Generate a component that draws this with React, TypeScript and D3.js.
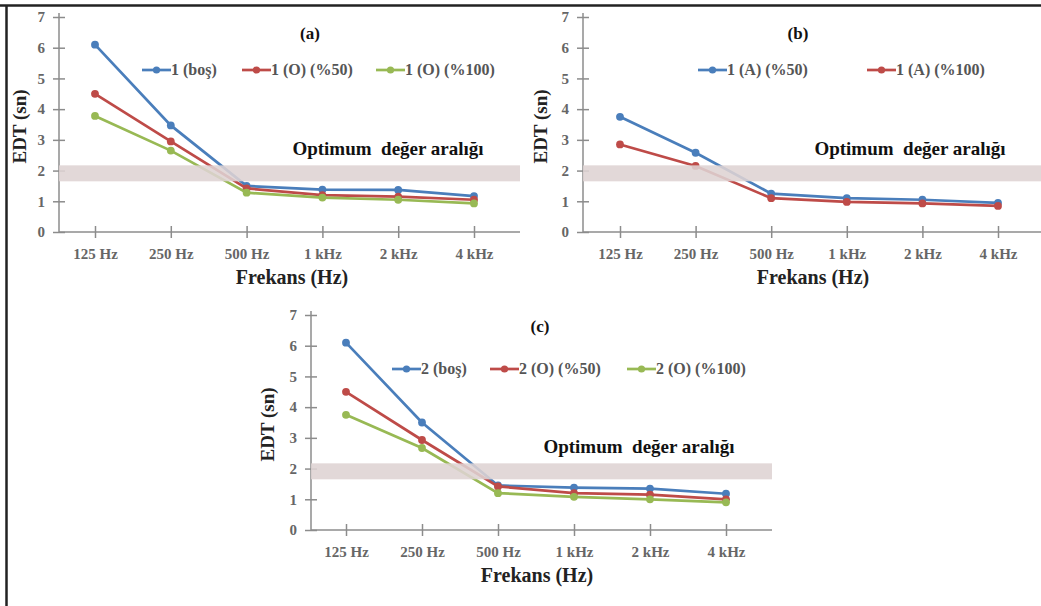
import * as d3 from "d3";
import { useEffect, useRef } from "react";

const categories = ["125 Hz", "250 Hz", "500 Hz", "1 kHz", "2 kHz", "4 kHz"];
const yTicks = [0, 1, 2, 3, 4, 5, 6, 7];
const optimumRange = [1.65, 2.17];

// panel (a)
const a1Bos = [6.1, 3.47, 1.5, 1.38, 1.37, 1.17];
const a1O50 = [4.5, 2.95, 1.42, 1.2, 1.15, 1.05];
const a1O100 = [3.78, 2.65, 1.28, 1.12, 1.05, 0.93];

// panel (b)
const b1A50 = [3.75, 2.58, 1.25, 1.1, 1.05, 0.95];
const b1A100 = [2.85, 2.15, 1.1, 0.98, 0.93, 0.85];

// panel (c)
const c2Bos = [6.1, 3.5, 1.45, 1.38, 1.35, 1.18];
const c2O50 = [4.5, 2.93, 1.42, 1.2, 1.15, 1.0];
const c2O100 = [3.75, 2.67, 1.2, 1.08, 1.0, 0.9];

const BLUE = "#4a7ebb";
const RED = "#be4b48";
const GREEN = "#98b954";
const FONT = "Liberation Serif, DejaVu Serif, serif";

const panels = [
	{
		title: "(a)",
		axisX: 59, top: 17, bottom: 232, first: 95, last: 474, right: 520,
		titleX: 310, titleY: 39,
		legendY: 70,
		optX: 388, optY: 155,
		xTitleX: 292, yTitleX: 26,
		series: [
			{ name: "1 (boş)", values: a1Bos, color: BLUE, lx: 142 },
			{ name: "1 (O) (%50)", values: a1O50, color: RED, lx: 242 },
			{ name: "1 (O) (%100)", values: a1O100, color: GREEN, lx: 376 }
		]
	},
	{
		title: "(b)",
		axisX: 583, top: 17, bottom: 232, first: 620, last: 998, right: 1041,
		titleX: 798, titleY: 39,
		legendY: 70,
		optX: 910, optY: 155,
		xTitleX: 813, yTitleX: 547,
		series: [
			{ name: "1 (A) (%50)", values: b1A50, color: BLUE, lx: 698 },
			{ name: "1 (A) (%100)", values: b1A100, color: RED, lx: 867 }
		]
	},
	{
		title: "(c)",
		axisX: 311, top: 315, bottom: 530, first: 346, last: 726, right: 772,
		titleX: 540, titleY: 332,
		legendY: 369,
		optX: 639, optY: 453,
		xTitleX: 537, yTitleX: 274,
		series: [
			{ name: "2 (boş)", values: c2Bos, color: BLUE, lx: 392 },
			{ name: "2 (O) (%50)", values: c2O50, color: RED, lx: 490 },
			{ name: "2 (O) (%100)", values: c2O100, color: GREEN, lx: 627 }
		]
	}
];

const App = () => {
	const chartRef = useRef(null);

	useEffect(() => {
		const svg = d3.select(chartRef.current);
		svg.selectAll("*").remove();

		svg.append("rect").attr("width", 1041).attr("height", 606).attr("fill", "#fff");
		// frame
		svg.append("line").attr("x1", 0).attr("x2", 1041).attr("y1", 5.5).attr("y2", 5.5)
			.attr("stroke", "#222").attr("stroke-width", 2.5);
		svg.append("line").attr("x1", 6.5).attr("x2", 6.5).attr("y1", 5).attr("y2", 606)
			.attr("stroke", "#222").attr("stroke-width", 2.5);

		panels.forEach(p => {
			const g = svg.append("g").attr("font-family", FONT);

			const scaleX = d3.scalePoint().domain(categories).range([p.first, p.last]);
			const scaleY = d3.scaleLinear().domain([0, 7]).range([p.bottom, p.top]);

			// y axis
			const yAxis = g.append("g")
				.attr("transform", `translate(${p.axisX},0)`)
				.call(d3.axisLeft(scaleY).tickValues(yTicks).tickFormat(d3.format("d")).tickSize(6).tickSizeOuter(0));
			yAxis.attr("font-family", FONT);
			yAxis.select(".domain").attr("stroke", "#8c8c8c").attr("stroke-width", 1.5)
				.attr("d", `M0,${p.top - 4}V${p.bottom}`);
			yAxis.selectAll(".tick line").attr("x1", -6).attr("x2", 6).attr("stroke", "#8c8c8c").attr("stroke-width", 1.5);
			yAxis.selectAll(".tick text")
				.attr("x", -14)
				.attr("font-size", 15).attr("font-weight", "bold")
				.attr("fill", "#666");

			// x axis
			const xAxis = g.append("g")
				.attr("transform", `translate(0,${p.bottom})`)
				.call(d3.axisBottom(scaleX).tickSize(6).tickSizeOuter(0));
			xAxis.attr("font-family", FONT);
			xAxis.select(".domain").attr("stroke", "#8c8c8c").attr("stroke-width", 1.5)
				.attr("d", `M${p.axisX},0H${p.right}`);
			xAxis.selectAll(".tick line").attr("y1", -6).attr("y2", 6).attr("stroke", "#8c8c8c").attr("stroke-width", 1.5);
			xAxis.selectAll(".tick text")
				.attr("y", 16)
				.attr("font-size", 15).attr("font-weight", "bold")
				.attr("fill", "#666");

			// lines
			const line = d3.line().x((d, i) => scaleX(categories[i])).y(d => scaleY(d));
			p.series.forEach(s => {
				g.append("path")
					.attr("d", line(s.values))
					.attr("fill", "none")
					.attr("stroke", s.color)
					.attr("stroke-width", 2.7);
				g.selectAll(null)
					.data(s.values)
					.enter()
					.append("circle")
					.attr("cx", (d, i) => scaleX(categories[i]))
					.attr("cy", d => scaleY(d))
					.attr("r", 3.9)
					.attr("fill", s.color);
			});

			// optimum band drawn over the lines
			g.append("rect")
				.attr("x", p.axisX)
				.attr("y", scaleY(optimumRange[1]))
				.attr("width", p.right - p.axisX)
				.attr("height", scaleY(optimumRange[0]) - scaleY(optimumRange[1]))
				.attr("fill", "#ded3d3")
				.attr("opacity", 0.88);

			g.append("text")
				.attr("x", p.optX).attr("y", p.optY)
				.attr("text-anchor", "middle")
				.attr("font-size", 19).attr("font-weight", "bold")
				.attr("fill", "#111")
				.style("white-space", "pre")
				.text("Optimum  değer aralığı");

			// title
			g.append("text")
				.attr("x", p.titleX).attr("y", p.titleY)
				.attr("text-anchor", "middle")
				.attr("font-size", 17).attr("font-weight", "bold")
				.attr("fill", "#111")
				.text(p.title);

			// legend
			p.series.forEach(s => {
				const lg = g.append("g").attr("transform", `translate(${s.lx},${p.legendY})`);
				lg.append("line").attr("x1", 0).attr("x2", 29).attr("stroke", s.color).attr("stroke-width", 2.7);
				lg.append("circle").attr("cx", 14.5).attr("r", 3.6).attr("fill", s.color);
				lg.append("text")
					.attr("x", 29).attr("y", 5)
					.attr("font-size", 16).attr("font-weight", "bold")
					.attr("fill", "#555")
					.text(s.name);
			});

			// axis titles
			g.append("text")
				.attr("x", p.xTitleX).attr("y", p.bottom + 52)
				.attr("text-anchor", "middle")
				.attr("font-size", 20).attr("font-weight", "bold")
				.attr("fill", "#222")
				.text("Frekans (Hz)");
			g.append("text")
				.attr("transform", `translate(${p.yTitleX},${(p.top + p.bottom) / 2 + 2}) rotate(-90)`)
				.attr("text-anchor", "middle")
				.attr("font-size", 19).attr("font-weight", "bold")
				.attr("fill", "#222")
				.text("EDT (sn)");
		});
	}, []);

	return (
		<svg ref={chartRef} width={1041} height={606} style={{ position: "absolute", left: 0, top: 0 }}></svg>
	);
};

export default App;
